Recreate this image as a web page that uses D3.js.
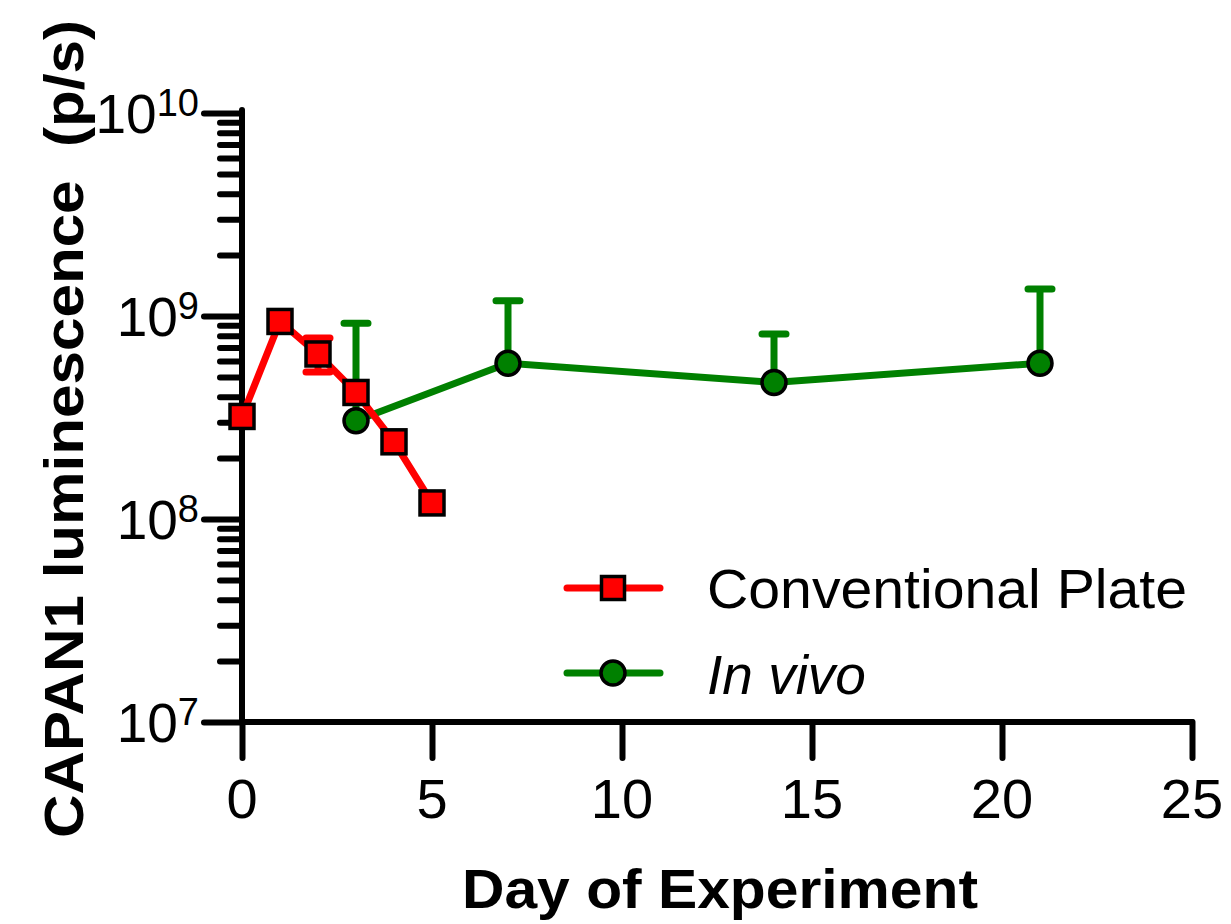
<!DOCTYPE html>
<html>
<head>
<meta charset="utf-8">
<script src="https://cdn.jsdelivr.net/npm/d3@7"></script>
<style>
  body { margin: 0; background: #fff; }
  text { font-family: Arial, "Liberation Sans", Helvetica, sans-serif; fill: #000; }
</style>
</head>
<body>
<svg width="1231" height="924"></svg>
<script>
// values
var plateDays = [0, 1, 2, 3, 4, 5];
var plateMean = [3.2e8, 9.4e8, 6.5e8, 4.2e8, 2.4e8, 1.2e8];
var plateLow  = [null, null, 5.3e8, null, null, null];
var plateHigh = [null, null, 7.8e8, null, null, null];

var vivoDays = [3, 7, 14, 21];
var vivoMean = [3.05e8, 5.85e8, 4.7e8, 5.85e8];
var vivoHigh = [9.2e8, 1.19e9, 8.15e8, 1.36e9];

var xTicks = [0, 5, 10, 15, 20, 25];
var yMajor = [1e7, 1e8, 1e9, 1e10];
var yExp = ["7", "8", "9", "10"];

var svg = d3.select("svg");

var x = d3.scaleLinear().domain([0, 25]).range([242, 1192]);
var y = d3.scaleLog().domain([1e7, 1e10]).range([722, 113]);

var yMinor = [];
yMajor.slice(0, 3).forEach(function(m) {
  for (var k = 2; k <= 9; k++) yMinor.push(m * k);
});

// y axis: minor then major ticks
var minorAxis = svg.append("g")
    .attr("transform", "translate(" + x(0) + ",0)")
    .call(d3.axisLeft(y).tickValues(yMinor).tickSize(22).tickSizeOuter(0).tickFormat(""));
var majorAxis = svg.append("g")
    .attr("transform", "translate(" + x(0) + ",0)")
    .call(d3.axisLeft(y).tickValues(yMajor).tickSize(38).tickSizeOuter(0).tickFormat(""));
var xAxis = svg.append("g")
    .attr("transform", "translate(0," + y(1e7) + ")")
    .call(d3.axisBottom(x).tickValues(xTicks).tickSize(36).tickSizeOuter(0).tickFormat(""));

[minorAxis, majorAxis, xAxis].forEach(function(a) {
  a.select(".domain").remove();
  a.selectAll("line").attr("stroke", "#000").attr("stroke-width", 6).attr("stroke-linecap", "round");
});

svg.append("line")
    .attr("x1", x(0)).attr("x2", x(0))
    .attr("y1", y(1e10) - 3).attr("y2", y(1e7))
    .attr("stroke", "#000").attr("stroke-width", 6).attr("stroke-linecap", "round");
svg.append("line")
    .attr("x1", x(0)).attr("x2", x(25))
    .attr("y1", y(1e7)).attr("y2", y(1e7))
    .attr("stroke", "#000").attr("stroke-width", 6).attr("stroke-linecap", "round");

// tick labels
svg.append("g").selectAll("text")
    .data(xTicks)
  .enter().append("text")
    .attr("x", function(d) { return x(d); })
    .attr("y", 818)
    .attr("text-anchor", "middle")
    .attr("font-size", 56)
    .text(function(d) { return d; });

var yl = svg.append("g").selectAll("text")
    .data(yMajor)
  .enter().append("text")
    .attr("x", 199)
    .attr("y", function(d) { return y(d) + 20; })
    .attr("text-anchor", "end")
    .attr("font-size", 55);
yl.append("tspan").text("10");
yl.append("tspan")
    .attr("font-size", 38)
    .attr("dy", -17)
    .text(function(d, i) { return yExp[i]; });

// axis titles
svg.append("text")
    .attr("transform", "translate(83,429) rotate(-90)")
    .attr("text-anchor", "middle")
    .attr("font-size", 56)
    .attr("font-weight", "bold")
    .style("white-space", "pre")
    .attr("textLength", 818)
    .attr("lengthAdjust", "spacingAndGlyphs")
    .text("CAPAN1 luminescence  (p/s)");

svg.append("text")
    .attr("x", 720)
    .attr("y", 908)
    .attr("text-anchor", "middle")
    .attr("font-size", 56)
    .attr("font-weight", "bold")
    .attr("textLength", 516)
    .attr("lengthAdjust", "spacingAndGlyphs")
    .text("Day of Experiment");

// in vivo series (green)
var green = "#008000", red = "#ff0000";
var vivo = vivoDays.map(function(d, i) { return {d: d, m: vivoMean[i], hi: vivoHigh[i]}; });
var line = d3.line()
    .x(function(p) { return x(p.d); })
    .y(function(p) { return y(p.m); });

var gv = svg.append("g");
gv.selectAll(".err").data(vivo).enter().append("path")
    .attr("d", function(p) {
      return "M" + x(p.d) + "," + y(p.m) + "V" + y(p.hi) +
             "M" + (x(p.d) - 12) + "," + y(p.hi) + "H" + (x(p.d) + 12);
    })
    .attr("stroke", green).attr("stroke-width", 7).attr("stroke-linecap", "round").attr("fill", "none");
gv.append("path")
    .attr("d", line(vivo))
    .attr("stroke", green).attr("stroke-width", 7).attr("fill", "none");
gv.selectAll("circle").data(vivo).enter().append("circle")
    .attr("cx", function(p) { return x(p.d); })
    .attr("cy", function(p) { return y(p.m); })
    .attr("r", 12)
    .attr("fill", green).attr("stroke", "#000").attr("stroke-width", 3.5);

// conventional plate series (red)
var plate = plateDays.map(function(d, i) { return {d: d, m: plateMean[i], lo: plateLow[i], hi: plateHigh[i]}; });
var gp = svg.append("g");
gp.selectAll(".err").data(plate.filter(function(p) { return p.hi != null; })).enter().append("path")
    .attr("d", function(p) {
      return "M" + x(p.d) + "," + y(p.lo) + "V" + y(p.hi) +
             "M" + (x(p.d) - 12) + "," + y(p.hi) + "H" + (x(p.d) + 12) +
             "M" + (x(p.d) - 12) + "," + y(p.lo) + "H" + (x(p.d) + 12);
    })
    .attr("stroke", red).attr("stroke-width", 7).attr("stroke-linecap", "round").attr("fill", "none");
gp.append("path")
    .attr("d", line(plate))
    .attr("stroke", red).attr("stroke-width", 7).attr("fill", "none");
gp.selectAll("rect").data(plate).enter().append("rect")
    .attr("x", function(p) { return x(p.d) - 12; })
    .attr("y", function(p) { return y(p.m) - 12; })
    .attr("width", 24).attr("height", 24)
    .attr("fill", red).attr("stroke", "#000").attr("stroke-width", 3.5);

// legend
var lg = svg.append("g");
lg.append("line").attr("x1", 567).attr("x2", 660).attr("y1", 588).attr("y2", 588)
    .attr("stroke", red).attr("stroke-width", 7).attr("stroke-linecap", "round");
lg.append("rect").attr("x", 601.5).attr("y", 576.5).attr("width", 23).attr("height", 23)
    .attr("fill", red).attr("stroke", "#000").attr("stroke-width", 3.5);
lg.append("text").attr("x", 707).attr("y", 608).attr("font-size", 55)
    .attr("textLength", 480).attr("lengthAdjust", "spacingAndGlyphs")
    .text("Conventional Plate");

lg.append("line").attr("x1", 567).attr("x2", 660).attr("y1", 673).attr("y2", 673)
    .attr("stroke", green).attr("stroke-width", 7).attr("stroke-linecap", "round");
lg.append("circle").attr("cx", 613).attr("cy", 673).attr("r", 12)
    .attr("fill", green).attr("stroke", "#000").attr("stroke-width", 3.5);
lg.append("text").attr("x", 707).attr("y", 694).attr("font-size", 55).attr("font-style", "italic").text("In vivo");
</script>
</body>
</html>
